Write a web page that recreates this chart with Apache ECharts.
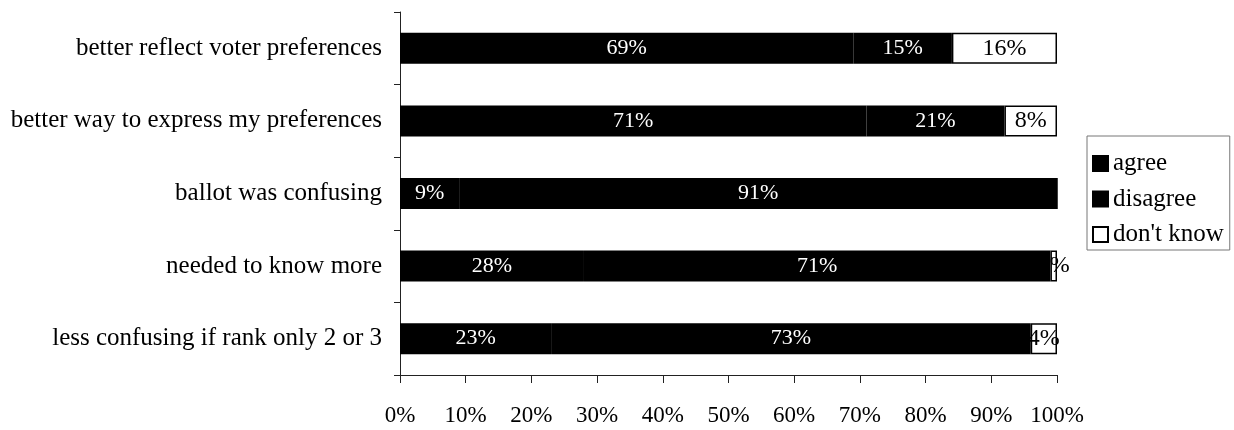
<!DOCTYPE html>
<html>
<head>
<meta charset="utf-8">
<script src="https://cdn.jsdelivr.net/npm/echarts@6/dist/echarts.min.js"></script>
<style>
html,body{margin:0;padding:0;background:#fff;}
#c{width:1234px;height:430px;}
</style>
</head>
<body>
<div id="c"></div>
<script>
const categories = [
  "better reflect voter preferences",
  "better way to express my preferences",
  "ballot was confusing",
  "needed to know more",
  "less confusing if rank only 2 or 3"
];
const agree = [69, 71, 9, 28, 23];
const disagree = [15, 21, 91, 71, 73];
const dontKnow = [16, 8, 0, 1, 4];
const xTicks = [0, 10, 20, 30, 40, 50, 60, 70, 80, 90, 100];

const FONT = '"Liberation Serif", "Times New Roman", serif';
const chart = echarts.init(document.getElementById('c'), null, {renderer: 'canvas'});

function lbl(color, size) {
  return {
    show: true,
    position: 'inside',
    color: color,
    fontFamily: FONT,
    fontSize: size,
    formatter: p => p.value ? p.value + '%' : ''
  };
}

chart.setOption({
  animation: false,
  backgroundColor: '#fff',
  grid: {left: 400, right: 177, top: 12, bottom: 55, containLabel: false},
  legend: {
    orient: 'vertical',
    left: 1087,
    top: 136,
    padding: [15, 6, 3, 5],
    itemGap: 10.5,
    itemWidth: 15,
    itemHeight: 15,
    borderColor: '#777',
    borderWidth: 1,
    icon: 'rect',
    textStyle: {fontFamily: FONT, fontSize: 25, color: '#000', lineHeight: 21},
    data: ['agree', 'disagree', "don't know"]
  },
  xAxis: {
    type: 'value',
    min: 0,
    max: 100,
    interval: 10,
    splitLine: {show: false},
    axisLine: {show: true, lineStyle: {color: '#222', width: 1}},
    axisTick: {show: true, length: 8, lineStyle: {color: '#222'}},
    axisLabel: {
      margin: 29,
      fontFamily: FONT,
      fontSize: 23,
      color: '#000',
      formatter: v => xTicks.indexOf(v) >= 0 ? v + '%' : ''
    }
  },
  yAxis: {
    type: 'category',
    inverse: true,
    data: categories,
    axisLine: {show: true, lineStyle: {color: '#222', width: 1}},
    axisTick: {show: true, length: 6, lineStyle: {color: '#222'}},
    axisLabel: {margin: 18, fontFamily: FONT, fontSize: 25, color: '#000'}
  },
  series: [
    {
      name: 'agree', type: 'bar', stack: 'total', barWidth: 31, data: agree,
      itemStyle: {color: '#000', borderColor: '#000', borderWidth: 2},
      label: lbl('#fff', 22)
    },
    {
      name: 'disagree', type: 'bar', stack: 'total', barWidth: 31, data: disagree,
      itemStyle: {color: '#000', borderColor: '#000', borderWidth: 2},
      label: lbl('#fff', 22)
    },
    {
      name: "don't know", type: 'bar', stack: 'total', barWidth: 31, data: dontKnow,
      itemStyle: {color: '#fff', borderColor: '#000', borderWidth: 1.5},
      label: lbl('#000', 24)
    }
  ]
});
</script>
</body>
</html>
